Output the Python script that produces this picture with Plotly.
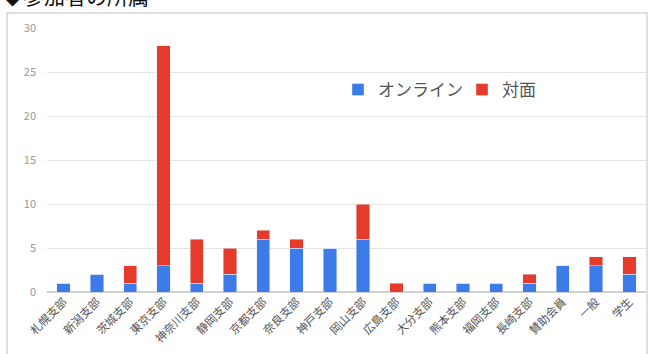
import plotly.graph_objects as go

categories = ["札幌支部", "新潟支部", "茨城支部", "東京支部", "神奈川支部", "静岡支部",
              "京都支部", "奈良支部", "神戸支部", "岡山支部", "広島支部", "大分支部",
              "熊本支部", "福岡支部", "長崎支部", "賛助会員", "一般", "学生"]
online = [1, 2, 1, 3, 1, 2, 6, 5, 5, 6, 0, 1, 1, 1, 1, 3, 3, 2]
face = [0, 0, 2, 25, 5, 3, 1, 1, 0, 4, 1, 0, 0, 0, 1, 0, 1, 2]
y_ticks = [0, 5, 10, 15, 20, 25, 30]

FONT = "Noto Sans CJK JP"
fig = go.Figure()
fig.add_trace(go.Bar(x=categories, y=online, name="オンライン", marker_color="#3c7be8"))
fig.add_trace(go.Bar(x=categories, y=face, name="対面", marker_color="#e63b2a"))

L, R, T, B = 47, 8, 28, 62
W, H = 654, 354
pw, ph = W - L - R, H - T - B

def px_x(p):
    return (p - L) / pw

def px_y(p):
    return (H - B - p) / ph

fig.update_layout(
    width=W, height=H, barmode="stack", bargap=0.6,
    margin=dict(l=L, r=R, t=T, b=B),
    paper_bgcolor="white", plot_bgcolor="white",
    font=dict(family=FONT),
    showlegend=True,
    legend=dict(orientation="h", x=px_x(338), y=px_y(72), xanchor="left", yanchor="top",
                font=dict(size=17, color="#555"), bgcolor="rgba(0,0,0,0)",
                itemwidth=30, traceorder="normal", entrywidth=79, entrywidthmode="pixels"),
    xaxis=dict(tickangle=-45, tickfont=dict(size=11.5, color="#555"), showgrid=False,
               showline=False, ticks=""),
    yaxis=dict(range=[0, 30], tickvals=y_ticks, tickfont=dict(size=11, color="#999"),
               gridcolor="#e3e3e3", zeroline=True, zerolinecolor="#d0d0d0",
               showline=False, ticks="", ticklabelstandoff=10),
    shapes=[dict(type="rect", xref="paper", yref="paper",
                 x0=px_x(7), x1=px_x(647), y0=px_y(400), y1=px_y(13),
                 line=dict(color="#d6d6d6", width=1.5), fillcolor="rgba(0,0,0,0)", layer="below")],
    annotations=[dict(text="◆参加者の所属", xref="paper", yref="paper", x=px_x(0), y=px_y(12),
                      xanchor="left", yanchor="bottom", showarrow=False,
                      font=dict(size=21, color="#111", family=FONT))],
)

fig.write_html("out.html")
